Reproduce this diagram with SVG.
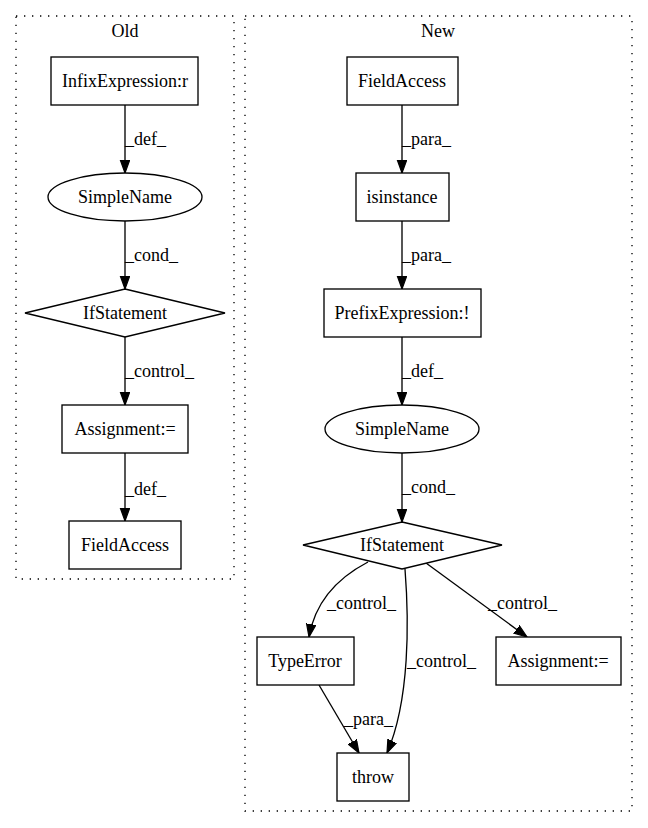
<svg xmlns="http://www.w3.org/2000/svg" width="648" height="828" viewBox="0 0 648 828">
<style>
text{font-family:"Liberation Serif","Times New Roman",serif;font-size:18px;fill:#000}
.c{fill:none;stroke:#000;stroke-dasharray:1.33,6.67;stroke-width:1.33}
.n{fill:#fff;stroke:#000;stroke-width:1.33}
.e{fill:none;stroke:#000;stroke-width:1.33;marker-end:url(#a)}
.m{text-anchor:middle}
</style>
<defs>
<marker id="a" markerUnits="userSpaceOnUse" markerWidth="14" markerHeight="11" refX="13" refY="5" orient="auto">
<path d="M0,0.3 L13,5 L0,9.7 z" fill="#000" stroke="#000" stroke-width="1.2"/>
</marker>
</defs>
<rect width="648" height="828" fill="#fff"/>
<g id="cluster_old">
<rect class="c" x="16" y="16" width="218" height="563"/>
<text class="m" x="125" y="37">Old</text>
</g>
<g id="cluster_new">
<rect class="c" x="245" y="16" width="387" height="795"/>
<text class="m" x="438" y="37">New</text>
</g>
<g id="edges">
<path class="e" d="M125,105 L125,173"/>
<text x="125" y="145">_def_</text>
<path class="e" d="M125,221 L125,289"/>
<text x="125" y="261">_cond_</text>
<path class="e" d="M125,337 L125,405"/>
<text x="125" y="377">_control_</text>
<path class="e" d="M125,453 L125,521"/>
<text x="125" y="495">_def_</text>
<path class="e" d="M402,105 L402,173"/>
<text x="402" y="145">_para_</text>
<path class="e" d="M402,221 L402,289"/>
<text x="402" y="261">_para_</text>
<path class="e" d="M402,337 L402,405"/>
<text x="402" y="377">_def_</text>
<path class="e" d="M402,453 L402,522"/>
<text x="402" y="493">_cond_</text>
<path class="e" d="M368,562 C345,574 316,596 309,637"/>
<text x="327" y="609">_control_</text>
<path class="e" d="M405,569 C409,620 410,700 387,753"/>
<text x="407" y="667">_control_</text>
<path class="e" d="M426,563 L527,637"/>
<text x="488" y="609">_control_</text>
<path class="e" d="M319,685 L359,753"/>
<text x="344" y="725">_para_</text>
</g>
<g id="old_infix">
<rect class="n" x="51" y="57" width="147" height="48"/>
<text class="m" x="125" y="87">InfixExpression:r</text>
</g>
<g id="old_simplename">
<ellipse class="n" cx="125" cy="197" rx="77" ry="24"/>
<text class="m" x="125" y="203">SimpleName</text>
</g>
<g id="old_if">
<polygon class="n" points="125,289 225,313 125,337 25,313"/>
<text class="m" x="125" y="319">IfStatement</text>
</g>
<g id="old_assign">
<rect class="n" x="62" y="405" width="126" height="48"/>
<text class="m" x="125" y="435">Assignment:=</text>
</g>
<g id="old_field">
<rect class="n" x="69" y="521" width="112" height="48"/>
<text class="m" x="125" y="551">FieldAccess</text>
</g>
<g id="new_field">
<rect class="n" x="347" y="57" width="111" height="48"/>
<text class="m" x="402" y="87">FieldAccess</text>
</g>
<g id="new_isinstance">
<rect class="n" x="356" y="173" width="93" height="48"/>
<text class="m" x="402" y="203">isinstance</text>
</g>
<g id="new_prefix">
<rect class="n" x="324" y="289" width="157" height="48"/>
<text class="m" x="402" y="319">PrefixExpression:!</text>
</g>
<g id="new_simplename">
<ellipse class="n" cx="402" cy="429" rx="77" ry="24"/>
<text class="m" x="402" y="435">SimpleName</text>
</g>
<g id="new_if">
<polygon class="n" points="402,522 502,545 402,569 303,545"/>
<text class="m" x="402" y="551">IfStatement</text>
</g>
<g id="new_typeerror">
<rect class="n" x="257" y="637" width="97" height="48"/>
<text class="m" x="305" y="667">TypeError</text>
</g>
<g id="new_assign">
<rect class="n" x="496" y="637" width="125" height="48"/>
<text class="m" x="558" y="667">Assignment:=</text>
</g>
<g id="new_throw">
<rect class="n" x="337" y="753" width="72" height="48"/>
<text class="m" x="373" y="783">throw</text>
</g>
</svg>
